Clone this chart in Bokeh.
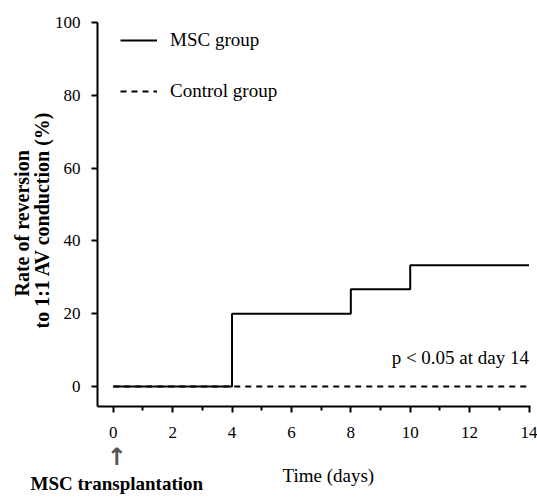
import math
from bokeh.plotting import figure
from bokeh.models import Label, Legend, LegendItem, FixedTicker, Title
from bokeh.embed import file_html
from bokeh.resources import INLINE

days = [0, 4, 8, 10, 14]
msc_rate = [0, 20, 26.7, 33.3, 33.3]
control_days = [0, 14]
control_rate = [0, 0]
x_ticks = [0, 2, 4, 6, 8, 10, 12, 14]
y_ticks = [0, 20, 40, 60, 80, 100]

FONT = "Liberation Serif"

p = figure(width=537, height=501, output_backend="svg", toolbar_location=None,
           x_range=(-0.53, 14.05), y_range=(-5.5, 100),
           min_border_left=97, min_border_right=7, min_border_top=22, min_border_bottom=95)
p.background_fill_color = "white"
p.border_fill_color = "white"
p.outline_line_color = None
p.grid.visible = False

ctrl = p.line(control_days, control_rate, line_color="black", line_width=2, line_dash="6 5")
msc = p.step(days, msc_rate, mode="after", line_color="black", line_width=2)

for ax in (p.xaxis[0], p.yaxis[0]):
    ax.axis_line_width = 2
    ax.axis_line_color = "black"
    ax.major_tick_line_width = 2
    ax.major_tick_line_color = "black"
    ax.major_tick_in = 0
    ax.major_tick_out = 6
    ax.major_label_text_font = FONT
    ax.major_label_text_font_size = "17px"
    ax.major_label_text_color = "black"

p.xaxis.ticker = FixedTicker(ticks=x_ticks, minor_ticks=[1, 3, 5, 7, 9, 11, 13])
p.xaxis.minor_tick_in = 0
p.xaxis.minor_tick_out = 4
p.xaxis.minor_tick_line_width = 2
p.xaxis.minor_tick_line_color = "black"
p.xaxis.major_label_standoff = 14
p.yaxis.ticker = FixedTicker(ticks=y_ticks)
p.yaxis.minor_tick_line_color = None
p.yaxis.major_label_standoff = 11

legend = Legend(items=[LegendItem(label="MSC group", renderers=[msc]),
                       LegendItem(label="Control group", renderers=[ctrl])],
                location=(23, 304), orientation="vertical")
legend.padding = 0
legend.margin = 0
legend.spacing = 29
legend.label_height = 20
legend.glyph_height = 20
legend.glyph_width = 37
legend.label_standoff = 13
legend.border_line_alpha = 0
legend.background_fill_alpha = 0
legend.label_text_font = FONT
legend.label_text_font_size = "19px"
legend.label_text_color = "black"
p.add_layout(legend)

p.add_layout(Label(x=14, y=8, text="p < 0.05 at day 14", text_font=FONT, text_font_size="19px",
                   text_color="black", text_align="right", text_baseline="middle"))

def title(side, text, size, bold, align, offset, standoff, font=FONT, color="black"):
    p.add_layout(Title(text=text, text_font=font, text_font_size=size,
                       text_font_style="bold" if bold else "normal", text_color=color,
                       align=align, offset=offset, standoff=standoff), side)

title("below", "\u2191", "24px", True, "left", 9, 0, font="DejaVu Sans", color="#555555")
title("below", "Time (days)", "19px", False, "left", 185, -30)
title("below", "MSC transplantation", "19px", True, "left", -67, 0)
title("left", "to 1:1 AV conduction (%)", "20px", True, "left", 78, -3)
title("left", "Rate of reversion", "20px", True, "left", 110, -5)

open("out.html", "w").write(file_html(p, INLINE))
